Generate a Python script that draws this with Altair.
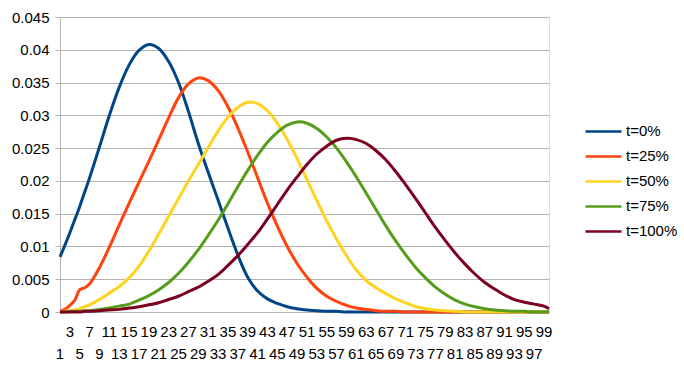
import altair as alt
import pandas as pd

categories = [1, 2, 3, 4, 5, 6, 7, 9, 11, 13, 15, 17, 19, 21, 23, 25, 27, 29, 31, 33,
              35, 37, 39, 41, 43, 45, 47, 49, 51, 53, 55, 57, 59, 61, 63, 65, 67, 69, 71, 73,
              75, 77, 79, 81, 83, 85, 87, 89, 91, 93, 95, 97, 99, 100]

t0 = [0.0084, 0.0102, 0.0121, 0.0141, 0.0161, 0.0183, 0.0205, 0.0252, 0.0300, 0.0343,
      0.0377, 0.0399, 0.0408, 0.0402, 0.0382, 0.0350, 0.0306, 0.0257, 0.0213, 0.0171,
      0.0128, 0.0087, 0.0053, 0.0032, 0.0020, 0.0013, 0.0008, 0.0005, 0.0003, 0.0002,
      0.0001, 0.0001, 0.0, 0.0, 0.0, 0.0, 0.0, 0.0, 0.0, 0.0,
      0.0, 0.0, 0.0, 0.0, 0.0, 0.0, 0.0, 0.0, 0.0, 0.0, 0.0, 0.0, 0.0, 0.0]

t25 = [0.0001, 0.0004, 0.0010, 0.0018, 0.0034, 0.0037, 0.0043, 0.0068, 0.0099, 0.0133,
       0.0166, 0.0198, 0.0230, 0.0263, 0.0296, 0.0327, 0.0348, 0.0357, 0.0353, 0.0338,
       0.0313, 0.0281, 0.0244, 0.0205, 0.0166, 0.0131, 0.0100, 0.0074, 0.0053, 0.0036,
       0.0024, 0.0016, 0.0010, 0.0006, 0.0004, 0.0002, 0.0001, 0.0001, 0.0, 0.0,
       0.0, 0.0, 0.0, 0.0, 0.0, 0.0, 0.0, 0.0, 0.0, 0.0, 0.0, 0.0, 0.0, 0.0]

t50 = [0.0000, 0.0001, 0.0002, 0.0003, 0.0005, 0.0008, 0.0011, 0.0019, 0.0029, 0.0039,
       0.0052, 0.0070, 0.0093, 0.0119, 0.0146, 0.0173, 0.0200, 0.0225, 0.0251, 0.0276,
       0.0297, 0.0312, 0.0320, 0.0318, 0.0307, 0.0288, 0.0263, 0.0234, 0.0202, 0.0170,
       0.0139, 0.0111, 0.0086, 0.0064, 0.0048, 0.0037, 0.0028, 0.0020, 0.0014, 0.0008,
       0.0005, 0.0003, 0.0002, 0.0001, 0.0, 0.0, 0.0, 0.0, 0.0, 0.0, 0.0, 0.0, 0.0, 0.0]

t75 = [0.0000, 0.0000, 0.0001, 0.0001, 0.0001, 0.0002, 0.0002, 0.0004, 0.0006, 0.0009,
       0.0012, 0.0018, 0.0025, 0.0034, 0.0045, 0.0059, 0.0076, 0.0095, 0.0117, 0.0140,
       0.0165, 0.0191, 0.0216, 0.0239, 0.0259, 0.0274, 0.0285, 0.0290, 0.0288, 0.0280,
       0.0267, 0.0250, 0.0229, 0.0206, 0.0181, 0.0156, 0.0131, 0.0108, 0.0087, 0.0068,
       0.0052, 0.0038, 0.0027, 0.0018, 0.0012, 0.0008, 0.0005, 0.0003, 0.0002, 0.0001,
       0.0001, 0.0, 0.0, 0.0]

t100 = [0.0000, 0.0000, 0.0000, 0.0000, 0.0000, 0.0001, 0.0001, 0.0002, 0.0003, 0.0004,
        0.0006, 0.0008, 0.0011, 0.0014, 0.0019, 0.0024, 0.0031, 0.0038, 0.0047, 0.0057,
        0.0071, 0.0086, 0.0103, 0.0121, 0.0142, 0.0164, 0.0186, 0.0206, 0.0225, 0.0241,
        0.0253, 0.0262, 0.0265, 0.0263, 0.0257, 0.0246, 0.0232, 0.0214, 0.0194, 0.0173,
        0.0151, 0.0129, 0.0109, 0.0090, 0.0073, 0.0058, 0.0045, 0.0035, 0.0026, 0.0019,
        0.0015, 0.0012, 0.0009, 0.0005]

series_names = ["t=0%", "t=25%", "t=50%", "t=75%", "t=100%"]
series_values = [t0, t25, t50, t75, t100]
colors = ["#004586", "#ff420e", "#ffd320", "#579d1c", "#7e0021"]

x_ticks = list(range(1, 101))
x_labels = list(range(1, 100, 2))
y_ticks = [0, 0.005, 0.01, 0.015, 0.02, 0.025, 0.03, 0.035, 0.04, 0.045]

rows = []
for name, vals in zip(series_names, series_values):
    for c, v in zip(categories, vals):
        rows.append({"c": c, "v": v, "series": name})
df = pd.DataFrame(rows)

lab_df = pd.DataFrame({"c": x_labels, "label": [str(v) for v in x_labels],
                       "row": ["top" if v % 4 == 3 else "bottom" for v in x_labels]})

W, H = 489, 295
FONT = "Liberation Sans"
GRID = "#b3b3b3"

xscale = alt.Scale(domain=[1, 100], nice=False, zero=False)

lines = alt.Chart(df).mark_line(interpolate="catmull-rom", strokeWidth=3).encode(
    x=alt.X("c:Q", scale=xscale,
            axis=alt.Axis(values=x_ticks, labels=False, grid=False, tickSize=6,
                          tickColor="#c8c8c8", domainColor=GRID, title=None)),
    y=alt.Y("v:Q", scale=alt.Scale(domain=[0, 0.045], nice=False),
            axis=alt.Axis(values=y_ticks, labelExpr="'' + datum.value", grid=True,
                          gridColor=GRID, tickColor=GRID, tickSize=5, domainColor=GRID,
                          labelFontSize=15, labelPadding=6, labelColor="#000000",
                          labelFont=FONT, title=None)),
    color=alt.Color("series:N", scale=alt.Scale(domain=series_names, range=colors),
                    legend=alt.Legend(title=None, orient="none", legendX=524, legendY=103,
                                      symbolType="stroke", symbolSize=1296,
                                      symbolStrokeWidth=2.5, labelFontSize=15,
                                      labelFont=FONT, labelColor="#000000",
                                      labelOffset=3, clipHeight=22.75, rowPadding=2)),
    detail="series:N",
)

top_labels = alt.Chart(lab_df).transform_filter("datum.row == 'top'").mark_text(
    fontSize=15, font=FONT, color="#000000", align="center", baseline="middle"
).encode(x=alt.X("c:Q", scale=xscale, axis=None), y=alt.value(H + 20), text="label:N")

bottom_labels = alt.Chart(lab_df).transform_filter("datum.row == 'bottom'").mark_text(
    fontSize=15, font=FONT, color="#000000", align="center", baseline="middle"
).encode(x=alt.X("c:Q", scale=xscale, axis=None), y=alt.value(H + 42), text="label:N")

chart = alt.layer(lines, top_labels, bottom_labels).properties(
    width=W, height=H,
    autosize=alt.AutoSizeParams(type="none"),
    padding={"left": 60, "top": 17, "right": 684 - 60 - W, "bottom": 372 - 17 - H},
    background="white",
).configure_view(stroke=GRID).configure(font=FONT)

chart.save("out.html", embed_options={"renderer": "svg", "actions": False})
